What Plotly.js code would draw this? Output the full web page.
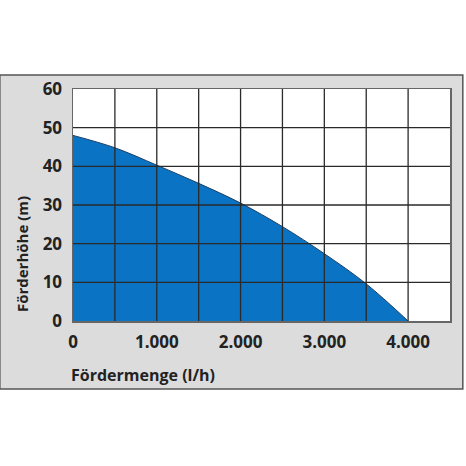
<!DOCTYPE html>
<html>
<head>
<meta charset="utf-8">
<script src="https://cdn.plot.ly/plotly-3.0.1.min.js"></script>
<style>
  html, body { margin: 0; padding: 0; background: #fff; }
  #chart { width: 466px; height: 466px; }
</style>
</head>
<body>
<div id="chart"></div>
<script>
// pump curve: flow (l/h) vs head (m)
const flow = [0, 500, 1000, 1500, 2000, 2500, 3000, 3500, 4000];
const head = [48, 44.8, 40.3, 35.6, 30.5, 24.4, 17.4, 9.6, 0];

const xTicks = [0, 500, 1000, 1500, 2000, 2500, 3000, 3500, 4000, 4500];
const xTickText = ['0', '', '1.000', '', '2.000', '', '3.000', '', '4.000', ''];
const yTicks = [0, 10, 20, 30, 40, 50, 60];

const fam = '"Open Sans", Lato, sans-serif';
const tickFont = { family: fam, size: 17, color: '#222', weight: 'bold' };

// grid lines drawn above the fill, one per tick
var grid = [];
xTicks.slice(1, -1).forEach(v => {
  grid.push({ type: 'line', xref: 'x', yref: 'paper', x0: v, x1: v, y0: 0, y1: 1,
    layer: 'above', line: { color: '#2a2a2a', width: 1.3 } });
});
yTicks.slice(1, -1).forEach(v => {
  grid.push({ type: 'line', xref: 'paper', yref: 'y', x0: 0, x1: 1, y0: v, y1: v,
    layer: 'above', line: { color: '#2a2a2a', width: 1.3 } });
});

const shapes = [
  // grey frame round the whole chart
  { type: 'rect', xref: 'paper', yref: 'paper', x0: -0.194, x1: 1.034, y0: -0.293, y1: 1.06,
    layer: 'below', fillcolor: '#dcdcdc', line: { color: '#555', width: 1.5 } },
  { type: 'rect', xref: 'paper', yref: 'paper', x0: 0, x1: 1, y0: 0, y1: 1,
    layer: 'below', fillcolor: '#fff', line: { width: 0 } }
].concat(grid);

const data = [{
  x: flow,
  y: head,
  type: 'scatter',
  mode: 'lines',
  fill: 'tozeroy',
  fillcolor: '#0a73c3',
  line: { color: '#1b3f66', width: 1, shape: 'spline', smoothing: 1 },
  hoverinfo: 'x+y'
}];

const layout = {
  width: 466,
  height: 466,
  margin: { l: 73, r: 16, t: 89, b: 145 },
  paper_bgcolor: '#fff',
  plot_bgcolor: 'rgba(0,0,0,0)',
  showlegend: false,
  font: { family: fam, size: 16, color: '#222' },
  xaxis: {
    range: [0, 4500],
    tickvals: xTicks,
    ticktext: xTickText,
    showgrid: false,
    zeroline: false,
    showline: true,
    mirror: true,
    linecolor: '#666',
    linewidth: 1.5,
    ticks: '',
    ticklabelstandoff: 5,
    tickfont: tickFont,
    fixedrange: true
  },
  yaxis: {
    range: [0, 60],
    tickvals: yTicks,
    showgrid: false,
    zeroline: false,
    showline: true,
    mirror: true,
    linecolor: '#666',
    linewidth: 1.5,
    ticks: '',
    ticklabelstandoff: 6,
    tickfont: tickFont,
    fixedrange: true
  },
  shapes: shapes,
  annotations: [
    { text: 'Fördermenge (l/h)', xref: 'paper', yref: 'paper', x: -0.01, y: -0.232,
      xanchor: 'left', yanchor: 'middle', showarrow: false,
      font: { family: fam, size: 16, color: '#222', weight: 'bold' } },
    { text: 'Förderhöhe (m)', xref: 'paper', yref: 'paper', x: -0.137, y: 0.29,
      xanchor: 'center', yanchor: 'middle', textangle: -90, showarrow: false,
      font: { family: fam, size: 15, color: '#222', weight: 'bold' } }
  ]
};

Plotly.newPlot('chart', data, layout, { displayModeBar: false, staticPlot: true });
</script>
</body>
</html>
